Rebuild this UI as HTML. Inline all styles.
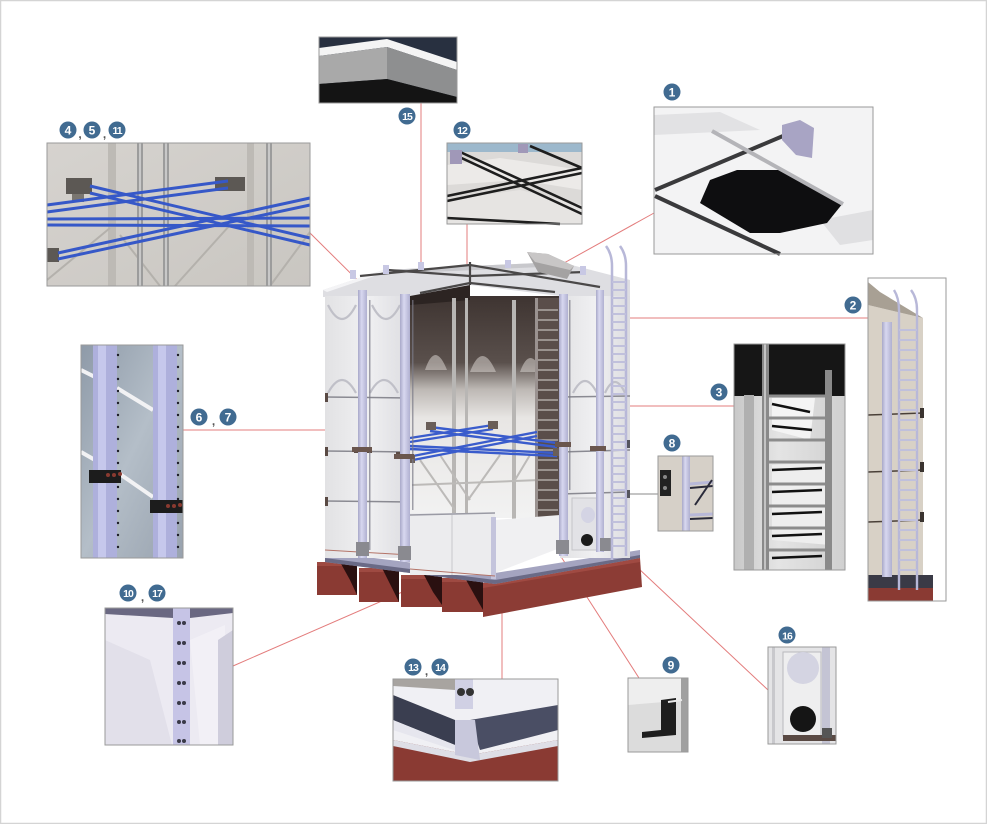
<!DOCTYPE html>
<html><head><meta charset="utf-8"><style>
html,body{margin:0;padding:0;background:#fff;}
svg{display:block;}
text{font-family:"Liberation Sans",sans-serif;}
</style></head><body>
<svg width="987" height="824" viewBox="0 0 987 824" xmlns="http://www.w3.org/2000/svg">
<defs>
<linearGradient id="gInt" x1="0" y1="0" x2="0" y2="1">
<stop offset="0" stop-color="#3e3431"/><stop offset="0.3" stop-color="#5a504c"/><stop offset="0.42" stop-color="#bdb8b4"/><stop offset="0.55" stop-color="#e8e6e4"/><stop offset="1" stop-color="#f2f2f2"/></linearGradient>
<linearGradient id="gWall" x1="0" y1="0" x2="1" y2="0">
<stop offset="0" stop-color="#e2e2e4"/><stop offset="0.5" stop-color="#f0f0f2"/><stop offset="1" stop-color="#dcdce0"/></linearGradient>
<linearGradient id="gPost" x1="0" y1="0" x2="1" y2="0">
<stop offset="0" stop-color="#a8a8c8"/><stop offset="0.4" stop-color="#d8d8f0"/><stop offset="1" stop-color="#b0b0d0"/></linearGradient>
<linearGradient id="g4" x1="0" y1="0" x2="1" y2="1">
<stop offset="0" stop-color="#d6d3cf"/><stop offset="1" stop-color="#c9c6c1"/></linearGradient>
<linearGradient id="g3" x1="0" y1="0" x2="1" y2="0">
<stop offset="0" stop-color="#c8c8c8"/><stop offset="0.4" stop-color="#e4e4e4"/><stop offset="1" stop-color="#d0d0d0"/></linearGradient>
<linearGradient id="g67" x1="0" y1="0" x2="1" y2="1">
<stop offset="0" stop-color="#8e9aa8"/><stop offset="0.5" stop-color="#b4bec8"/><stop offset="1" stop-color="#98a2ae"/></linearGradient>
</defs>

<rect x="0.5" y="0.5" width="986" height="823" fill="#fff" stroke="#d4d4d4" stroke-width="1.5"/>

<!-- ============ CONNECTOR LINES ============ -->
<g stroke="#e37c7c" stroke-width="1" fill="none">
<line x1="421" y1="103" x2="421" y2="293"/>
<line x1="467" y1="224" x2="467" y2="264"/>
<line x1="310" y1="233" x2="443" y2="365"/>
<line x1="654" y1="213" x2="555" y2="268"/>
<line x1="617" y1="318" x2="868" y2="318"/>
<line x1="548" y1="406" x2="734" y2="406"/>
<line x1="183" y1="430" x2="362" y2="430"/>
<line x1="233" y1="666" x2="494" y2="552"/>
<line x1="502" y1="580" x2="502" y2="679"/>
<line x1="558" y1="552" x2="639" y2="678"/>
<line x1="590" y1="523" x2="768" y2="690"/>
</g>
<line x1="626" y1="494" x2="658" y2="494" stroke="#8a8a8a" stroke-width="1"/>

<!-- ============ TANK ============ -->
<g>
<polygon points="483,583 640,558 642,587 483,617" fill="#8c3c35"/>
<polygon points="483,583 640,558 640,562 483,588" fill="#a04a42"/>
<rect x="317" y="562" width="40" height="33" fill="#8a3a33"/>
<rect x="359" y="568" width="40" height="34" fill="#8a3a33"/>
<rect x="401" y="575" width="41" height="32" fill="#8a3a33"/>
<rect x="442" y="578" width="41" height="34" fill="#8a3a33"/>
<rect x="317" y="562" width="40" height="4" fill="#9e4a42"/>
<rect x="359" y="568" width="40" height="4" fill="#9e4a42"/>
<rect x="401" y="575" width="41" height="4" fill="#9e4a42"/>
<rect x="442" y="578" width="41" height="4" fill="#9e4a42"/>
<polygon points="340,562 357,562 357,595 350,580" fill="#2a1010"/>
<polygon points="382,568 399,568 399,602 392,588" fill="#2a1010"/>
<polygon points="424,575 442,575 442,605 433,592" fill="#2a1010"/>
<polygon points="465,578 483,578 483,610 475,596" fill="#2a1010"/>
</g>
<polygon points="325,552 495,573 640,550 640,558 495,584 325,562" fill="#a4a4c0"/>
<polygon points="325,558 495,580 640,555 640,558 495,584 325,562" fill="#6a6a86"/>

<!-- roof -->
<polygon points="323,290 383,270 560,262 630,280 630,296 560,296 470,285 410,297 323,297" fill="#dedee2"/>
<polygon points="383,270 560,262 563,266 386,274" fill="#c8c8cc"/>
<polygon points="323,290 383,270 386,272 327,292" fill="#f4f4f6"/>
<g stroke="#4a4848" stroke-width="2.2" fill="none">
<line x1="388" y1="270" x2="470" y2="276"/>
<line x1="470" y1="276" x2="585" y2="272"/>
<line x1="360" y1="276" x2="470" y2="265"/>
<line x1="470" y1="265" x2="600" y2="287"/>
<line x1="420" y1="293" x2="470" y2="283"/>
<line x1="470" y1="283" x2="555" y2="292"/>
<line x1="470" y1="262" x2="470" y2="285"/>
</g>
<g fill="#c8c8e4">
<rect x="383" y="265" width="6" height="9"/><rect x="418" y="262" width="6" height="8"/>
<rect x="505" y="260" width="6" height="8"/><rect x="580" y="266" width="6" height="9"/>
<rect x="350" y="270" width="6" height="9"/>
</g>
<polygon points="527,252 548,254 574,266 567,279 538,272" fill="#a4a2a2"/>
<polygon points="527,252 548,254 574,266 570,270 535,262" fill="#c8c6c6"/>

<!-- left wall -->
<rect x="325" y="296" width="85" height="262" fill="url(#gWall)"/>
<g fill="none" stroke="#c0c0c8" stroke-width="2.2">
<path d="M328,305 q14,28 28,0"/><path d="M372,305 q14,28 28,0"/>
<path d="M328,393 q14,-26 28,0"/><path d="M370,393 q14,-26 28,0"/>
</g>
<g stroke="#8a8a92" stroke-width="1.5">
<line x1="325" y1="397" x2="410" y2="398"/>
<line x1="325" y1="451" x2="410" y2="452"/>
<line x1="325" y1="501" x2="410" y2="502"/>
</g>
<g fill="#5a4a44">
<rect x="325" y="393" width="3" height="9"/><rect x="325" y="447" width="3" height="9"/><rect x="325" y="497" width="3" height="9"/>
<rect x="354" y="447" width="18" height="6"/><rect x="396" y="452" width="18" height="6"/>
</g>

<!-- interior -->
<rect x="410" y="296" width="150" height="222" fill="url(#gInt)"/>
<polygon points="410,296 470,285 470,300 410,305" fill="#2c2422"/>
<g fill="#d6d0cc" opacity="0.55">
<path d="M425,370 q10,-30 22,0 z"/><path d="M470,372 q12,-32 26,0 z"/><path d="M520,372 q10,-28 22,0 z"/>
</g>
<g fill="#b8b6b4">
<rect x="452" y="298" width="4" height="240"/><rect x="465" y="298" width="3" height="250"/><rect x="512" y="300" width="4" height="232"/>
</g>
<g stroke="#bcbab8" stroke-width="2" fill="none">
<line x1="420" y1="460" x2="455" y2="510"/><line x1="440" y1="455" x2="470" y2="500"/>
<line x1="500" y1="455" x2="468" y2="500"/><line x1="530" y1="455" x2="515" y2="480"/>
<line x1="412" y1="485" x2="540" y2="480"/>
</g>
<rect x="535" y="298" width="24" height="232" fill="#5a4e4a"/>
<g stroke="#b0aaa6" stroke-width="1.6">
<line x1="536" y1="310" x2="558" y2="310"/><line x1="536" y1="320" x2="558" y2="320"/><line x1="536" y1="330" x2="558" y2="330"/><line x1="536" y1="340" x2="558" y2="340"/><line x1="536" y1="350" x2="558" y2="350"/><line x1="536" y1="360" x2="558" y2="360"/><line x1="536" y1="370" x2="558" y2="370"/><line x1="536" y1="380" x2="558" y2="380"/><line x1="536" y1="390" x2="558" y2="390"/><line x1="536" y1="400" x2="558" y2="400"/><line x1="536" y1="410" x2="558" y2="410"/><line x1="536" y1="420" x2="558" y2="420"/><line x1="536" y1="430" x2="558" y2="430"/><line x1="536" y1="440" x2="558" y2="440"/><line x1="536" y1="450" x2="558" y2="450"/><line x1="536" y1="460" x2="558" y2="460"/><line x1="536" y1="470" x2="558" y2="470"/><line x1="536" y1="480" x2="558" y2="480"/><line x1="536" y1="490" x2="558" y2="490"/><line x1="536" y1="500" x2="558" y2="500"/><line x1="536" y1="510" x2="558" y2="510"/><line x1="536" y1="520" x2="558" y2="520"/>
</g>
<rect x="535" y="298" width="3" height="232" fill="#9a9290"/>
<polygon points="495,520 560,515 560,548 495,573" fill="#f0f0f2"/>
<g stroke="#3a5ccc" stroke-width="2.4" fill="none">
<line x1="430" y1="427" x2="557" y2="443"/><line x1="430" y1="431" x2="557" y2="447"/>
<line x1="493" y1="425" x2="410" y2="438"/><line x1="493" y1="429" x2="410" y2="442"/>
<line x1="413" y1="456" x2="537" y2="432"/><line x1="413" y1="460" x2="537" y2="436"/>
<line x1="410" y1="446" x2="557" y2="453"/><line x1="410" y1="449" x2="557" y2="456"/>
</g>
<g fill="#6a5e58"><rect x="426" y="422" width="10" height="8"/><rect x="488" y="421" width="10" height="8"/><rect x="553" y="448" width="10" height="8"/><rect x="405" y="455" width="10" height="8"/></g>

<rect x="410" y="513" width="85" height="62" fill="#ececee"/>
<line x1="452" y1="515" x2="452" y2="575" stroke="#c8c8cc" stroke-width="1"/>
<line x1="410" y1="515" x2="495" y2="513" stroke="#9a9aa4" stroke-width="1.5"/>
<rect x="491" y="517" width="5" height="62" fill="#c4c4dc"/>
<line x1="410" y1="569" x2="495" y2="576" stroke="#b47468" stroke-width="1"/>
<line x1="325" y1="550" x2="410" y2="555" stroke="#b47468" stroke-width="1"/>

<!-- right wall -->
<rect x="560" y="296" width="70" height="262" fill="url(#gWall)"/>
<g fill="none" stroke="#c0c0c8" stroke-width="2.2"><path d="M573,393 q12,-24 24,0"/><path d="M605,393 q10,-22 20,0"/></g>
<g stroke="#8a8a92" stroke-width="1.5">
<line x1="560" y1="397" x2="630" y2="396"/><line x1="560" y1="452" x2="630" y2="450"/><line x1="560" y1="494" x2="630" y2="492"/>
</g>
<rect x="572" y="498" width="30" height="52" fill="#e2e2e6" stroke="#c4c4c8" stroke-width="1"/>
<ellipse cx="588" cy="515" rx="7" ry="8" fill="#d4d4e4"/>
<circle cx="587" cy="540" r="6" fill="#1a1a1a"/>

<rect x="358" y="290" width="9" height="268" fill="url(#gPost)"/>
<rect x="400" y="294" width="10" height="268" fill="url(#gPost)"/>
<rect x="559" y="294" width="9" height="262" fill="url(#gPost)"/>
<rect x="596" y="290" width="8" height="262" fill="url(#gPost)"/>
<g fill="#7a7a88">
<rect x="369" y="300" width="1.5" height="250" opacity="0.7"/>
<rect x="412" y="300" width="1.5" height="210" opacity="0.7"/>
<rect x="569" y="300" width="1.5" height="190" opacity="0.7"/>
</g>
<g fill="#8a8a90">
<rect x="356" y="542" width="13" height="14"/><rect x="398" y="546" width="13" height="14"/><rect x="556" y="540" width="13" height="14"/><rect x="600" y="538" width="12" height="13"/>
</g>
<g fill="#6a564e">
<rect x="352" y="447" width="20" height="5"/><rect x="394" y="454" width="20" height="5"/><rect x="555" y="442" width="16" height="5"/><rect x="590" y="446" width="16" height="5"/>
</g>

<g stroke="#b8b8d8" stroke-width="2.5" fill="none">
<path d="M606,246 q6,8 6,20 v294"/>
<path d="M620,246 q6,8 6,20 v290"/>
</g>
<g stroke="#c0c0dc" stroke-width="2">
<line x1="612" y1="282" x2="626" y2="282"/><line x1="612" y1="290" x2="626" y2="290"/><line x1="612" y1="298" x2="626" y2="298"/><line x1="612" y1="306" x2="626" y2="306"/><line x1="612" y1="314" x2="626" y2="314"/><line x1="612" y1="322" x2="626" y2="322"/><line x1="612" y1="330" x2="626" y2="330"/><line x1="612" y1="338" x2="626" y2="338"/><line x1="612" y1="346" x2="626" y2="346"/><line x1="612" y1="354" x2="626" y2="354"/><line x1="612" y1="362" x2="626" y2="362"/><line x1="612" y1="370" x2="626" y2="370"/><line x1="612" y1="378" x2="626" y2="378"/><line x1="612" y1="386" x2="626" y2="386"/><line x1="612" y1="394" x2="626" y2="394"/><line x1="612" y1="402" x2="626" y2="402"/><line x1="612" y1="410" x2="626" y2="410"/><line x1="612" y1="418" x2="626" y2="418"/><line x1="612" y1="426" x2="626" y2="426"/><line x1="612" y1="434" x2="626" y2="434"/><line x1="612" y1="442" x2="626" y2="442"/><line x1="612" y1="450" x2="626" y2="450"/><line x1="612" y1="458" x2="626" y2="458"/><line x1="612" y1="466" x2="626" y2="466"/><line x1="612" y1="474" x2="626" y2="474"/><line x1="612" y1="482" x2="626" y2="482"/><line x1="612" y1="490" x2="626" y2="490"/><line x1="612" y1="498" x2="626" y2="498"/><line x1="612" y1="506" x2="626" y2="506"/><line x1="612" y1="514" x2="626" y2="514"/><line x1="612" y1="522" x2="626" y2="522"/><line x1="612" y1="530" x2="626" y2="530"/><line x1="612" y1="538" x2="626" y2="538"/><line x1="612" y1="546" x2="626" y2="546"/>
</g>
<g fill="#55555e"><rect x="627" y="440" width="3" height="8"/><rect x="627" y="490" width="3" height="8"/></g>

<!-- ============ DETAIL BOXES ============ -->
<g>
<rect x="319" y="37" width="138" height="66" fill="#283040"/>
<polygon points="319,48 387,39 457,62 457,70 387,47 319,56" fill="#f4f4f4"/>
<polygon points="319,56 387,47 387,79 319,84" fill="#a9a9a9"/>
<polygon points="387,47 457,70 457,97 387,79" fill="#8e8f90"/>
<polygon points="319,84 387,79 457,97 457,103 319,103" fill="#141414"/>
<rect x="319" y="37" width="138" height="66" fill="none" stroke="#9a9a9a" stroke-width="1"/>
</g>

<g>
<rect x="447" y="143" width="135" height="81" fill="#dcdad8"/>
<rect x="447" y="143" width="135" height="9" fill="#9cb8cc"/>
<polygon points="447,165 500,158 582,170 582,190 520,180 447,185" fill="#eceae8"/>
<polygon points="447,200 520,190 582,205 582,224 447,224" fill="#e6e4e2"/>
<g stroke="#1e1e1e" stroke-width="2.6" fill="none">
<line x1="447" y1="196" x2="582" y2="168"/><line x1="447" y1="201" x2="582" y2="173"/>
<line x1="455" y1="155" x2="582" y2="214"/><line x1="458" y1="151" x2="582" y2="208"/>
<line x1="530" y1="146" x2="582" y2="168"/>
<line x1="447" y1="218" x2="560" y2="224"/>
</g>
<rect x="450" y="150" width="12" height="14" fill="#a098b8"/><rect x="518" y="144" width="10" height="9" fill="#a098b8"/>
<rect x="447" y="143" width="135" height="81" fill="none" stroke="#9a9a9a" stroke-width="1"/>
</g>

<g>
<rect x="47" y="143" width="263" height="143" fill="url(#g4)"/>
<rect x="108" y="143" width="8" height="143" fill="#bdbab5"/>
<rect x="247" y="143" width="7" height="143" fill="#bdbab5"/>
<g stroke="#b4b1ac" stroke-width="2" fill="none">
<line x1="47" y1="280" x2="110" y2="228"/><line x1="120" y1="235" x2="160" y2="286"/><line x1="175" y1="286" x2="230" y2="225"/><line x1="270" y1="286" x2="310" y2="232"/>
</g>
<rect x="137" y="143" width="6" height="143" fill="#9c9c9c"/><rect x="139" y="143" width="2" height="143" fill="#c8c8c8"/>
<rect x="163" y="143" width="6" height="143" fill="#9c9c9c"/><rect x="165" y="143" width="2" height="143" fill="#c8c8c8"/>
<rect x="266" y="143" width="6" height="143" fill="#9c9c9c"/><rect x="268" y="143" width="2" height="143" fill="#c8c8c8"/>
<g fill="#5c5854">
<rect x="66" y="178" width="26" height="16"/><rect x="215" y="177" width="30" height="14"/><rect x="47" y="248" width="12" height="14"/>
<rect x="72" y="194" width="12" height="8" fill="#7a7670"/>
</g>
<g stroke="#3658c8" stroke-width="3" fill="none">
<line x1="90" y1="186" x2="310" y2="238"/><line x1="90" y1="193" x2="310" y2="245"/>
<line x1="228" y1="181" x2="47" y2="205"/><line x1="228" y1="188" x2="47" y2="212"/>
<line x1="58" y1="253" x2="310" y2="198"/><line x1="58" y1="259" x2="310" y2="205"/>
<line x1="47" y1="219" x2="310" y2="218"/><line x1="47" y1="225" x2="310" y2="226"/>
</g>
<rect x="47" y="143" width="263" height="143" fill="none" stroke="#9a9a9a" stroke-width="1"/>
</g>

<g>
<rect x="654" y="107" width="219" height="147" fill="#f3f3f4"/>
<polygon points="654,115 720,112 760,130 654,135" fill="#e2e2e4"/>
<polygon points="820,220 873,210 873,240 840,245" fill="#e0e0e2"/>
<polygon points="700,203 710,180 737,170 780,170 843,203 827,223 780,233 750,233" fill="#0e0e10"/>
<g stroke="#3a3a3c" stroke-width="4" fill="none">
<line x1="655" y1="190" x2="783" y2="136"/>
<line x1="655" y1="196" x2="780" y2="254"/>
</g>
<line x1="712" y1="131" x2="843" y2="204" stroke="#b4b4b8" stroke-width="4"/>
<polygon points="782,125 800,120 814,128 812,158 796,155 782,140" fill="#a8a4c4"/>
<rect x="654" y="107" width="219" height="147" fill="none" stroke="#9a9a9a" stroke-width="1"/>
</g>

<g>
<rect x="868" y="278" width="78" height="323" fill="#fff"/>
<polygon points="868,305 923,318 923,578 868,578" fill="#d8d1c6"/>
<polygon points="868,282 880,292 923,318 868,305" fill="#a8a094"/>
<rect x="868" y="575" width="65" height="13" fill="#3a3a46"/>
<rect x="868" y="588" width="65" height="13" fill="#8a3a33"/>
<g stroke="#4a4038" stroke-width="1.5"><line x1="868" y1="415" x2="923" y2="413"/><line x1="868" y1="472" x2="923" y2="470"/><line x1="868" y1="522" x2="923" y2="520"/></g>
<rect x="882" y="322" width="10" height="255" fill="url(#gPost)"/>
<g stroke="#b8b8d8" stroke-width="2.4" fill="none">
<path d="M894,290 q5,8 5,20 v280"/><path d="M911,290 q6,8 6,20 v280"/>
</g>
<g stroke="#c0c0dc" stroke-width="2">
<line x1="899" y1="330" x2="917" y2="330"/><line x1="899" y1="340" x2="917" y2="340"/><line x1="899" y1="350" x2="917" y2="350"/><line x1="899" y1="360" x2="917" y2="360"/><line x1="899" y1="370" x2="917" y2="370"/><line x1="899" y1="380" x2="917" y2="380"/><line x1="899" y1="390" x2="917" y2="390"/><line x1="899" y1="400" x2="917" y2="400"/><line x1="899" y1="410" x2="917" y2="410"/><line x1="899" y1="420" x2="917" y2="420"/><line x1="899" y1="430" x2="917" y2="430"/><line x1="899" y1="440" x2="917" y2="440"/><line x1="899" y1="450" x2="917" y2="450"/><line x1="899" y1="460" x2="917" y2="460"/><line x1="899" y1="470" x2="917" y2="470"/><line x1="899" y1="480" x2="917" y2="480"/><line x1="899" y1="490" x2="917" y2="490"/><line x1="899" y1="500" x2="917" y2="500"/><line x1="899" y1="510" x2="917" y2="510"/><line x1="899" y1="520" x2="917" y2="520"/><line x1="899" y1="530" x2="917" y2="530"/><line x1="899" y1="540" x2="917" y2="540"/><line x1="899" y1="550" x2="917" y2="550"/><line x1="899" y1="560" x2="917" y2="560"/><line x1="899" y1="570" x2="917" y2="570"/>
</g>
<g fill="#3a3430"><rect x="920" y="408" width="4" height="10"/><rect x="920" y="462" width="4" height="10"/><rect x="920" y="512" width="4" height="10"/></g>
<rect x="868" y="278" width="78" height="323" fill="none" stroke="#9a9a9a" stroke-width="1"/>
</g>

<g>
<rect x="734" y="344" width="111" height="226" fill="url(#g3)"/>
<rect x="734" y="344" width="111" height="52" fill="#161616"/>
<polygon points="772,398 815,398 810,440 772,430" fill="#f4f4f4"/>
<polygon points="772,465 830,462 830,545 772,540" fill="#eeeeee"/>
<rect x="744" y="395" width="10" height="175" fill="#b0b0b0"/>
<rect x="762" y="344" width="7" height="226" fill="#8a8a8a"/><rect x="764" y="344" width="2" height="226" fill="#c4c4c4"/>
<rect x="825" y="370" width="7" height="200" fill="#8a8a8a"/>
<g stroke="#8c8c8c" stroke-width="3">
<line x1="769" y1="396" x2="825" y2="396"/><line x1="769" y1="418" x2="825" y2="418"/><line x1="769" y1="440" x2="825" y2="440"/><line x1="769" y1="462" x2="825" y2="462"/><line x1="769" y1="484" x2="825" y2="484"/><line x1="769" y1="506" x2="825" y2="506"/><line x1="769" y1="528" x2="825" y2="528"/><line x1="769" y1="550" x2="825" y2="550"/>
</g>
<g stroke="#111" stroke-width="2.5">
<line x1="772" y1="404" x2="810" y2="412"/><line x1="772" y1="426" x2="812" y2="430"/><line x1="772" y1="470" x2="822" y2="468"/><line x1="772" y1="492" x2="822" y2="490"/><line x1="772" y1="514" x2="822" y2="512"/><line x1="772" y1="536" x2="822" y2="534"/><line x1="772" y1="558" x2="822" y2="556"/>
</g>
<rect x="734" y="344" width="111" height="226" fill="none" stroke="#9a9a9a" stroke-width="1"/>
</g>

<g>
<rect x="658" y="456" width="55" height="75" fill="#d6d0c8"/>
<rect x="682" y="456" width="8" height="75" fill="url(#gPost)"/>
<g stroke="#b8b8d8" stroke-width="3"><line x1="690" y1="484" x2="713" y2="482"/><line x1="690" y1="515" x2="713" y2="514"/></g>
<g stroke="#2a2a3a" stroke-width="2"><line x1="690" y1="488" x2="713" y2="486"/><line x1="690" y1="519" x2="713" y2="518"/><line x1="695" y1="505" x2="712" y2="480"/></g>
<rect x="660" y="470" width="11" height="26" fill="#222"/>
<circle cx="665" cy="477" r="2" fill="#888"/><circle cx="665" cy="488" r="2" fill="#888"/>
<rect x="658" y="456" width="55" height="75" fill="none" stroke="#9a9a9a" stroke-width="1"/>
</g>

<g>
<rect x="81" y="345" width="102" height="213" fill="url(#g67)"/>
<g stroke="#f2f2f4" stroke-width="4"><line x1="81" y1="370" x2="95" y2="377"/><line x1="117" y1="388" x2="153" y2="410"/><line x1="81" y1="452" x2="95" y2="460"/><line x1="117" y1="472" x2="153" y2="497"/></g>
<rect x="93" y="345" width="24" height="213" fill="#aeb0dc"/><rect x="98" y="345" width="8" height="213" fill="#c6c8ec"/>
<rect x="153" y="345" width="24" height="213" fill="#aeb0dc"/><rect x="158" y="345" width="8" height="213" fill="#c6c8ec"/>
<g fill="#1e1e28">
<circle cx="118" cy="355" r="1.2"/><circle cx="118" cy="367" r="1.2"/><circle cx="118" cy="379" r="1.2"/><circle cx="118" cy="391" r="1.2"/><circle cx="118" cy="403" r="1.2"/><circle cx="118" cy="415" r="1.2"/><circle cx="118" cy="427" r="1.2"/><circle cx="118" cy="439" r="1.2"/><circle cx="118" cy="451" r="1.2"/><circle cx="118" cy="463" r="1.2"/><circle cx="118" cy="475" r="1.2"/><circle cx="118" cy="487" r="1.2"/><circle cx="118" cy="499" r="1.2"/><circle cx="118" cy="511" r="1.2"/><circle cx="118" cy="523" r="1.2"/><circle cx="118" cy="535" r="1.2"/><circle cx="118" cy="547" r="1.2"/>
<circle cx="178" cy="355" r="1.2"/><circle cx="178" cy="367" r="1.2"/><circle cx="178" cy="379" r="1.2"/><circle cx="178" cy="391" r="1.2"/><circle cx="178" cy="403" r="1.2"/><circle cx="178" cy="415" r="1.2"/><circle cx="178" cy="427" r="1.2"/><circle cx="178" cy="439" r="1.2"/><circle cx="178" cy="451" r="1.2"/><circle cx="178" cy="463" r="1.2"/><circle cx="178" cy="475" r="1.2"/><circle cx="178" cy="487" r="1.2"/><circle cx="178" cy="499" r="1.2"/><circle cx="178" cy="511" r="1.2"/><circle cx="178" cy="523" r="1.2"/><circle cx="178" cy="535" r="1.2"/><circle cx="178" cy="547" r="1.2"/>
</g>
<rect x="89" y="470" width="32" height="13" fill="#1c1c1c"/>
<rect x="150" y="500" width="33" height="13" fill="#1c1c1c"/>
<g fill="#8a3a30"><circle cx="108" cy="475" r="2"/><circle cx="114" cy="475" r="2"/><circle cx="120" cy="474" r="2"/><circle cx="168" cy="506" r="2"/><circle cx="174" cy="506" r="2"/><circle cx="180" cy="505" r="2"/></g>
<rect x="81" y="345" width="102" height="213" fill="none" stroke="#9a9a9a" stroke-width="1"/>
</g>

<g>
<rect x="105" y="608" width="128" height="137" fill="#eceaf2"/>
<polygon points="105,640 150,660 172,745 105,745" fill="#e2e0ea"/>
<polygon points="190,640 225,625 225,745 200,745" fill="#f2f0f6"/>
<polygon points="218,640 233,630 233,745 218,745" fill="#cfcddc"/>
<polygon points="105,608 173,608 173,618 105,614" fill="#6a6882"/>
<polygon points="190,608 233,608 233,613 190,618" fill="#6a6882"/>
<rect x="173" y="608" width="17" height="137" fill="#c6c4e6"/>
<g fill="#3a3a48">
<circle cx="179" cy="623" r="2"/><circle cx="184" cy="623" r="2"/><circle cx="179" cy="643" r="2"/><circle cx="184" cy="643" r="2"/><circle cx="179" cy="663" r="2"/><circle cx="184" cy="663" r="2"/><circle cx="179" cy="683" r="2"/><circle cx="184" cy="683" r="2"/><circle cx="179" cy="703" r="2"/><circle cx="184" cy="703" r="2"/><circle cx="179" cy="722" r="2"/><circle cx="184" cy="722" r="2"/><circle cx="179" cy="741" r="2"/><circle cx="184" cy="741" r="2"/>
</g>
<rect x="105" y="608" width="128" height="137" fill="none" stroke="#9a9a9a" stroke-width="1"/>
</g>

<g>
<rect x="393" y="679" width="165" height="102" fill="#f0f0f4"/>
<polygon points="393,695 455,720 455,745 393,720" fill="#3a3e50"/>
<polygon points="470,720 558,705 558,730 480,750" fill="#4a4e64"/>
<polygon points="393,720 455,745 460,752 393,730" fill="#e6e6ee"/>
<polygon points="393,740 470,755 558,740 558,781 393,781" fill="#8a3a33"/>
<polygon points="393,740 470,755 558,740 558,746 470,762 393,746" fill="#dedee6"/>
<polygon points="455,720 475,720 480,760 455,755" fill="#c8c8dc"/>
<rect x="455" y="679" width="18" height="30" fill="#d0d0e4"/>
<circle cx="461" cy="692" r="4" fill="#333"/><circle cx="470" cy="692" r="4" fill="#333"/>
<polygon points="393,679 455,679 455,690 393,686" fill="#a8a4a0"/>
<rect x="393" y="679" width="165" height="102" fill="none" stroke="#9a9a9a" stroke-width="1"/>
</g>

<g>
<rect x="628" y="678" width="60" height="74" fill="#dcdcdc"/>
<polygon points="628,678 688,678 688,700 628,705" fill="#eeeeee"/>
<rect x="681" y="678" width="7" height="74" fill="#a0a0a0"/>
<polygon points="661,700 676,698 676,735 642,738 642,732 661,730" fill="#1e1e1e"/>
<line x1="668" y1="702" x2="682" y2="700" stroke="#e8e8e8" stroke-width="2"/>
<rect x="628" y="678" width="60" height="74" fill="none" stroke="#9a9a9a" stroke-width="1"/>
</g>

<g>
<rect x="768" y="647" width="68" height="97" fill="#e4e4e6"/>
<rect x="772" y="647" width="3" height="97" fill="#c8c8cc"/>
<rect x="783" y="652" width="38" height="84" fill="#eeeeef" stroke="#b8b8bc" stroke-width="1"/>
<rect x="822" y="647" width="8" height="97" fill="#c4c4d4"/>
<circle cx="803" cy="668" r="16" fill="#d4d4e2"/>
<circle cx="803" cy="719" r="13" fill="#151515"/>
<rect x="783" y="735" width="53" height="6" fill="#5a4a44"/>
<rect x="822" y="728" width="10" height="10" fill="#555"/>
<rect x="768" y="647" width="68" height="97" fill="none" stroke="#9a9a9a" stroke-width="1"/>
</g>

<!-- ============ NUMBER BADGES ============ -->
<g fill="#416b91">
<circle cx="672" cy="92" r="8.5"/>
<circle cx="853" cy="305" r="8.5"/>
<circle cx="719" cy="392" r="8.5"/>
<circle cx="68" cy="130" r="8.5"/><circle cx="92" cy="130" r="8.5"/><circle cx="117" cy="130" r="8.5"/>
<circle cx="199" cy="417" r="8.5"/><circle cx="228" cy="417" r="8.5"/>
<circle cx="672" cy="443" r="8.5"/>
<circle cx="671" cy="665" r="8.5"/>
<circle cx="128" cy="593" r="8.5"/><circle cx="157" cy="593" r="8.5"/>
<circle cx="462" cy="130" r="8.5"/>
<circle cx="413" cy="667" r="8.5"/><circle cx="440" cy="667" r="8.5"/>
<circle cx="407" cy="116" r="8.5"/>
<circle cx="787" cy="635" r="8.5"/>
</g>
<g fill="#fff" font-weight="bold" font-size="12" text-anchor="middle">
<text x="672" y="96.5">1</text>
<text x="853" y="309.5">2</text>
<text x="719" y="396.5">3</text>
<text x="68" y="134.5">4</text><text x="92" y="134.5">5</text>
<text x="199" y="421.5">6</text><text x="228" y="421.5">7</text>
<text x="672" y="447.5">8</text>
<text x="671" y="669.5">9</text>
<text x="787" y="639.5" font-size="10.5" letter-spacing="-1">16</text>
<text x="117" y="134" font-size="10.5" letter-spacing="-1">11</text>
<text x="128" y="597" font-size="10.5" letter-spacing="-1">10</text>
<text x="157" y="597" font-size="10.5" letter-spacing="-1">17</text>
<text x="462" y="134" font-size="10.5" letter-spacing="-1">12</text>
<text x="413" y="671" font-size="10.5" letter-spacing="-1">13</text>
<text x="440" y="671" font-size="10.5" letter-spacing="-1">14</text>
<text x="407" y="120" font-size="10.5" letter-spacing="-1">15</text>
</g>
<g fill="#555" font-weight="bold" font-size="12" text-anchor="middle">
<text x="80" y="138">,</text><text x="104.5" y="138">,</text>
<text x="213.5" y="425">,</text>
<text x="142.5" y="601">,</text>
<text x="426.5" y="675">,</text>
</g>
</svg>
</body></html>
